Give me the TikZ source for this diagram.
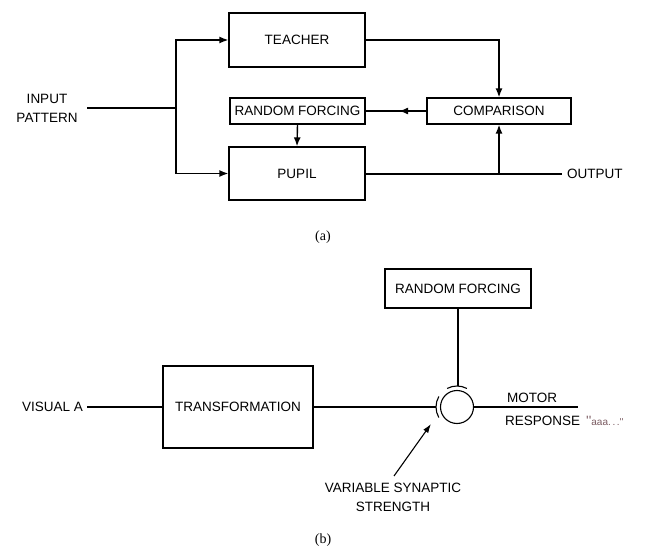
\documentclass[tikz,border=0pt]{standalone}
\usepackage{fontspec}
\setmainfont{Liberation Serif}
\newfontfamily\labfont{Liberation Sans}
\usetikzlibrary{arrows.meta,decorations.markings}
\begin{document}
\begin{tikzpicture}[x=1pt,y=-1pt,
  lbl/.style={font=\labfont\fontsize{13.5}{19}\selectfont, inner sep=0pt, align=center},
  blk/.style={draw, line width=1.3pt, inner sep=0pt, font=\labfont\fontsize{13.5}{15}\selectfont},
  wire/.style={line width=1.4pt},
  arr/.style={wire, -{Latex[length=9pt,width=7pt]}},
  midarr/.style={wire, postaction={decorate}, decoration={markings, mark=at position 0.45 with {\arrow{Latex[length=9pt,width=7pt]}}}},
  figlabel/.style={font=\fontsize{14}{16}\selectfont, inner sep=0pt}]
\useasboundingbox (0,0) rectangle (648,556);
% ---------- (a) ----------
\node[blk, minimum width=136pt, minimum height=54pt] (teacher) at (297,40) {TEACHER};
\node[blk, minimum width=135pt, minimum height=26pt] (rfa) at (297.5,111) {RANDOM FORCING};
\node[blk, minimum width=144pt, minimum height=26pt] (cmp) at (499,111) {COMPARISON};
\node[blk, minimum width=136pt, minimum height=53pt] (pupil) at (297,173.5) {PUPIL};
\node[lbl] (input) at (47,108) {INPUT\\PATTERN};
\coordinate (split) at (176,108);
\coordinate (junc) at (499,174);
\coordinate (outend) at (562,174);
\node[lbl, anchor=west] (output) at (567,174) {OUTPUT};
\draw[wire] (87,108) -- (split);
\draw[arr] (split) |- (teacher.west);
\draw[arr] (split) |- (pupil.west);
\draw[arr] (teacher.east) -| (cmp.north);
\draw[midarr] (cmp.west) -- (rfa.east);
\draw[arr] (rfa.south) -- (pupil.north);
\draw[wire] (pupil.east |- junc) -- (outend);
\draw[arr] (junc) -- (cmp.south);
\node[figlabel] (capa) at (323,237) {(a)};
% ---------- (b) ----------
\node[blk, line width=1.1pt, minimum width=146pt, minimum height=39pt] (rfb) at (458,288.5) {RANDOM FORCING};
\node[blk, line width=1.1pt, minimum width=150pt, minimum height=82pt] (trans) at (238,407) {TRANSFORMATION};
\node[draw, circle, line width=1.1pt, minimum size=33pt, inner sep=0pt] (syn) at (457,407) {};
\coordinate (captop) at (457,386);
\coordinate (capleft) at (436,407);
\draw[line width=1.1pt] (syn.center) ++(242:21) arc[start angle=242, end angle=298, radius=21];
\draw[line width=1.1pt] (syn.center) ++(150:21) arc[start angle=150, end angle=210, radius=21];
\draw[line width=1.1pt] (rfb.south) -- (rfb.south |- captop);
\draw[line width=1.1pt] (trans.east) -- (capleft);
\coordinate (motend) at (578,407);
\draw[line width=1.1pt] (syn.east) -- (motend);
\node[lbl, anchor=west] (visual) at (22,407) {VISUAL A};
\draw[line width=1.1pt] (visual.east) ++(4,0) -- (trans.west);
\node[lbl, anchor=south west] (motor) at (507,403) {MOTOR};
\node[lbl, anchor=west] (resp) at (505,421) {RESPONSE \,\textcolor[HTML]{7A5A60}{''\fontsize{10}{12}\selectfont aaa.\,.\,.''}};
\node[lbl] (vss) at (393,497) {VARIABLE SYNAPTIC\\STRENGTH};
\coordinate (vsstail) at (394,476);
\draw[line width=1.1pt, -{Latex[length=9pt,width=6pt]}] (vsstail) -- (431,424);
\node[figlabel] (capb) at (323,540) {(b)};
\end{tikzpicture}
\end{document}
